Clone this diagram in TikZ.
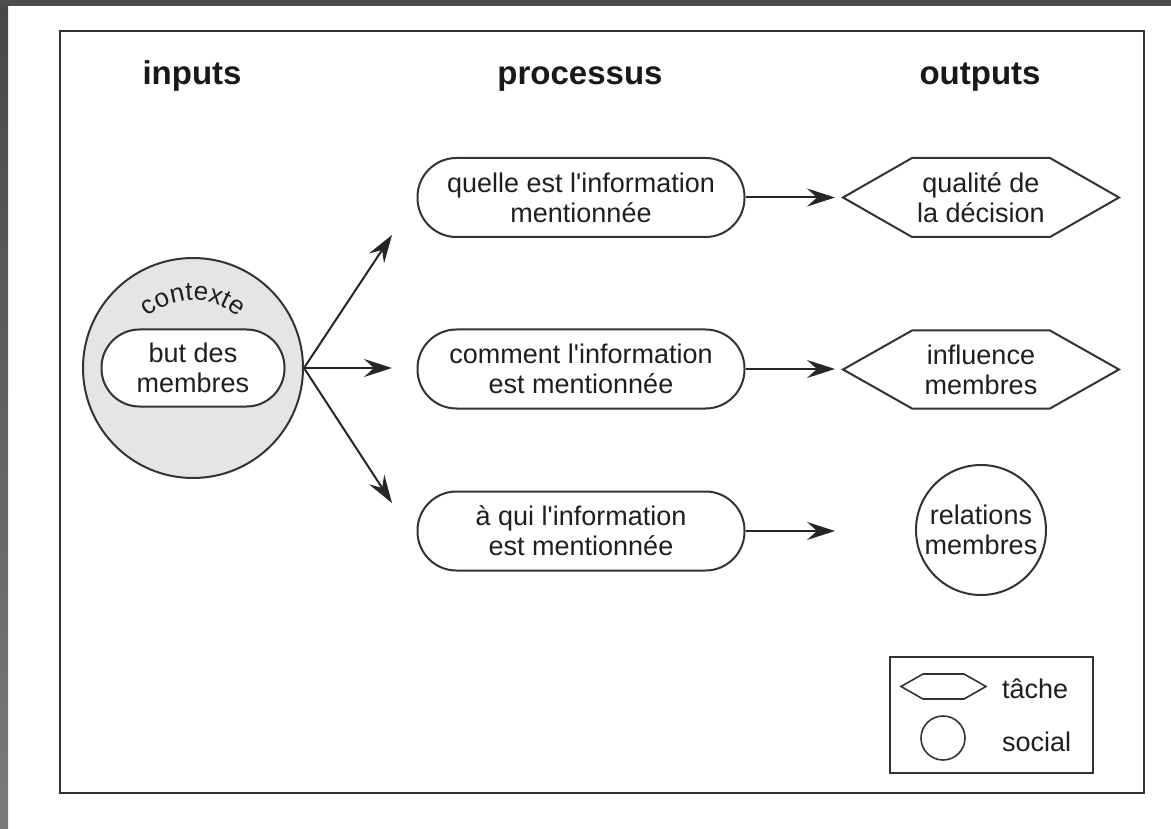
\documentclass[tikz,border=0pt]{standalone}
\usepackage{fontspec}
\setmainfont{Liberation Sans}[Ligatures=TeXOff]
\usetikzlibrary{arrows.meta,calc,decorations.text}
\newcommand\hexa[5][]{\draw[shapeline,#1] ($(#2)+(-#3,0)$) -- ++(#5,-#4) -- ++({2*#3-2*#5},0) -- ++(#5,#4) -- ++(-#5,#4) -- ++({-2*#3+2*#5},0) -- cycle;}
\begin{document}
\begin{tikzpicture}[x=1pt,y=-1pt,
  shapeline/.style={draw=black!80,line width=2pt},
  txt/.style={font=\fontsize{27}{30}\selectfont, text=black!88, align=center},
  hdr/.style={font=\fontsize{33}{36}\selectfont\bfseries, text=black!90, anchor=base},
  proc/.style={shapeline, txt, rounded corners=39pt, minimum width=327pt, minimum height=79pt, inner sep=0pt},
  arr/.style={line width=2pt, draw=black!85, -{Stealth[length=28pt,width=18pt,inset=10pt]}},
]
\useasboundingbox (0,0) rectangle (1171,829);
\fill[white] (0,0) rectangle (1171,829);
\shade[top color=black!72, bottom color=black!52] (0,0) rectangle (8,829);
\fill[black!70] (0,0) rectangle (1171,6);
% frame
\draw[draw=black!80, line width=2.5pt] (60,31) rectangle (1144,793);
% headers
\node[hdr] (hin) at (192,85) {inputs};
\node[hdr] (hproc) at (580,85) {processus};
\node[hdr] (hout) at (980,85) {outputs};
% context
\node[circle, shapeline, fill=black!10, minimum size=220pt, inner sep=0pt] (ctx) at (193,368) {};
\path[decorate, decoration={text along path, text={|\fontsize{26}{30}\selectfont|contexte}, text align=center, text color=black!88}]
  ($(ctx.center)+(220:68)$) arc[start angle=220, end angle=320, radius=68];
\node[shapeline, fill=white, rounded corners=38pt, minimum width=183pt, minimum height=77pt, inner sep=0pt, txt] (but) at (193,368) {but des\\membres};
% processes
\node[proc] (p1) at (581,197.5) {quelle est l'information\\mentionnée};
\node[proc] (p2) at (581,369) {comment l'information\\est mentionnée};
\node[proc] (p3) at (581,531) {à qui l'information\\est mentionnée};
% diagonal arrows
\coordinate (t1) at (392,235);
\coordinate (t2) at (392,368);
\coordinate (t3) at (392,503);
\draw[arr] (ctx.east) -- (t1);
\draw[arr] (ctx.east) -- (t2);
\draw[arr] (ctx.east) -- (t3);
% outputs
\node[txt, inner sep=0pt] (o1) at (981,197.5) {qualité de\\la décision};
\hexa{o1}{138}{39.5}{69}
\node[txt, inner sep=0pt] (o2) at (981,369.5) {influence\\membres};
\hexa{o2}{138}{39}{69}
\node[circle, shapeline, minimum size=130pt, inner sep=0pt, txt] (o3) at (981,530) {relations\\membres};
\coordinate (a1) at (835,197.5);
\coordinate (a2) at (835,369);
\coordinate (a3) at (835,531);
\draw[arr] (p1.east) -- (a1);
\draw[arr] (p2.east) -- (a2);
\draw[arr] (p3.east) -- (a3);
% legend
\node[draw=black!80, line width=2pt, minimum width=203pt, minimum height=116pt, inner sep=0pt] (leg) at (991.5,715) {};
\coordinate (lh) at (943.5,686.5);
\hexa[line width=1.6pt]{lh}{42.5}{12.5}{22}
\node[circle, draw=black!80, line width=1.6pt, minimum size=44pt, inner sep=0pt] (lc) at (943,738) {};
\node[txt, anchor=west, inner sep=0pt] (ltache) at (1002,689) {tâche};
\node[txt, anchor=west, inner sep=0pt] (lsocial) at (1002,742) {social};
\end{tikzpicture}
\end{document}
